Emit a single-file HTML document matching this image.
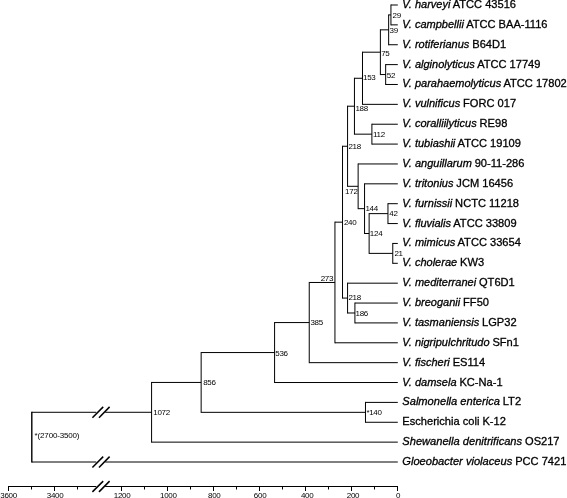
<!DOCTYPE html><html><head><meta charset="utf-8"><title>tree</title><style>
html,body{margin:0;padding:0;background:#fff}
#c{position:relative;width:567px;height:498px;overflow:hidden;background:#fff;font-family:"Liberation Sans",sans-serif;color:#000}
.t{position:absolute;white-space:nowrap;font-size:11.1px;line-height:12px;height:12px;-webkit-text-stroke:0.3px #000}
.n{position:absolute;white-space:nowrap;font-size:8px;letter-spacing:-0.3px;line-height:8px;height:8px}
.a{position:absolute;white-space:nowrap;font-size:8px;letter-spacing:-0.3px;line-height:8px;height:8px;width:40px;text-align:center}
i{font-style:italic;font-size:11.0px;margin-right:-0.2px}

</style></head><body><div id="c">
<svg width="567" height="498" viewBox="0 0 567 498" style="position:absolute;left:0;top:0">
<rect width="567" height="498" fill="#fff"/>
<g stroke="#000" stroke-width="1" fill="none">
<line x1="390.94" y1="4.50" x2="390.94" y2="25.37"/>
<line x1="390.94" y1="5.00" x2="397.80" y2="5.00"/>
<line x1="390.94" y1="24.87" x2="397.80" y2="24.87"/>
<line x1="388.65" y1="14.44" x2="388.65" y2="45.24"/>
<line x1="388.65" y1="14.94" x2="390.94" y2="14.94"/>
<line x1="388.65" y1="44.74" x2="397.80" y2="44.74"/>
<line x1="385.67" y1="64.11" x2="385.67" y2="84.98"/>
<line x1="385.67" y1="64.61" x2="397.80" y2="64.61"/>
<line x1="385.67" y1="84.48" x2="397.80" y2="84.48"/>
<line x1="380.39" y1="29.34" x2="380.39" y2="75.05"/>
<line x1="380.39" y1="29.84" x2="388.65" y2="29.84"/>
<line x1="380.39" y1="74.55" x2="385.67" y2="74.55"/>
<line x1="362.49" y1="51.69" x2="362.49" y2="104.85"/>
<line x1="362.49" y1="52.19" x2="380.39" y2="52.19"/>
<line x1="362.49" y1="104.35" x2="397.80" y2="104.35"/>
<line x1="371.90" y1="123.72" x2="371.90" y2="144.59"/>
<line x1="371.90" y1="124.22" x2="397.80" y2="124.22"/>
<line x1="371.90" y1="144.09" x2="397.80" y2="144.09"/>
<line x1="354.45" y1="77.77" x2="354.45" y2="134.66"/>
<line x1="354.45" y1="78.27" x2="362.49" y2="78.27"/>
<line x1="354.45" y1="134.16" x2="371.90" y2="134.16"/>
<line x1="387.96" y1="203.20" x2="387.96" y2="224.07"/>
<line x1="387.96" y1="203.70" x2="397.80" y2="203.70"/>
<line x1="387.96" y1="223.57" x2="397.80" y2="223.57"/>
<line x1="392.78" y1="242.94" x2="392.78" y2="263.81"/>
<line x1="392.78" y1="243.44" x2="397.80" y2="243.44"/>
<line x1="392.78" y1="263.31" x2="397.80" y2="263.31"/>
<line x1="369.14" y1="213.14" x2="369.14" y2="253.88"/>
<line x1="369.14" y1="213.64" x2="387.96" y2="213.64"/>
<line x1="369.14" y1="253.38" x2="392.78" y2="253.38"/>
<line x1="364.55" y1="183.33" x2="364.55" y2="234.00"/>
<line x1="364.55" y1="183.83" x2="397.80" y2="183.83"/>
<line x1="364.55" y1="233.50" x2="369.14" y2="233.50"/>
<line x1="358.13" y1="163.46" x2="358.13" y2="209.17"/>
<line x1="358.13" y1="163.96" x2="397.80" y2="163.96"/>
<line x1="358.13" y1="208.67" x2="364.55" y2="208.67"/>
<line x1="347.57" y1="105.71" x2="347.57" y2="186.81"/>
<line x1="347.57" y1="106.21" x2="354.45" y2="106.21"/>
<line x1="347.57" y1="186.31" x2="358.13" y2="186.31"/>
<line x1="354.91" y1="302.55" x2="354.91" y2="323.42"/>
<line x1="354.91" y1="303.05" x2="397.80" y2="303.05"/>
<line x1="354.91" y1="322.92" x2="397.80" y2="322.92"/>
<line x1="347.57" y1="282.68" x2="347.57" y2="313.49"/>
<line x1="347.57" y1="283.18" x2="397.80" y2="283.18"/>
<line x1="347.57" y1="312.99" x2="354.91" y2="312.99"/>
<line x1="342.52" y1="145.76" x2="342.52" y2="298.58"/>
<line x1="342.52" y1="146.26" x2="347.57" y2="146.26"/>
<line x1="342.52" y1="298.08" x2="347.57" y2="298.08"/>
<line x1="334.95" y1="221.67" x2="334.95" y2="343.29"/>
<line x1="334.95" y1="222.17" x2="342.52" y2="222.17"/>
<line x1="334.95" y1="342.79" x2="397.80" y2="342.79"/>
<line x1="309.24" y1="281.98" x2="309.24" y2="363.16"/>
<line x1="309.24" y1="282.48" x2="334.95" y2="282.48"/>
<line x1="309.24" y1="362.66" x2="397.80" y2="362.66"/>
<line x1="274.59" y1="322.07" x2="274.59" y2="383.03"/>
<line x1="274.59" y1="322.57" x2="309.24" y2="322.57"/>
<line x1="274.59" y1="382.53" x2="397.80" y2="382.53"/>
<line x1="365.47" y1="401.90" x2="365.47" y2="422.77"/>
<line x1="365.47" y1="402.40" x2="397.80" y2="402.40"/>
<line x1="365.47" y1="422.27" x2="397.80" y2="422.27"/>
<line x1="201.15" y1="352.05" x2="201.15" y2="412.84"/>
<line x1="201.15" y1="352.55" x2="274.59" y2="352.55"/>
<line x1="201.15" y1="412.34" x2="365.47" y2="412.34"/>
<line x1="151.58" y1="381.94" x2="151.58" y2="442.64"/>
<line x1="151.58" y1="382.44" x2="201.15" y2="382.44"/>
<line x1="151.58" y1="442.14" x2="397.80" y2="442.14"/>
<line x1="31.80" y1="411.79" x2="31.80" y2="462.51" stroke-width="1.4"/>
<line x1="31.80" y1="412.29" x2="151.58" y2="412.29"/>
<line x1="31.80" y1="462.01" x2="397.80" y2="462.01"/>
<line x1="8.00" y1="486.5" x2="398.00" y2="486.5"/>
<line x1="397.50" y1="486.5" x2="397.50" y2="491.00"/>
<line x1="374.50" y1="486.5" x2="374.50" y2="489.50"/>
<line x1="351.50" y1="486.5" x2="351.50" y2="491.00"/>
<line x1="328.50" y1="486.5" x2="328.50" y2="489.50"/>
<line x1="305.50" y1="486.5" x2="305.50" y2="491.00"/>
<line x1="282.50" y1="486.5" x2="282.50" y2="489.50"/>
<line x1="259.50" y1="486.5" x2="259.50" y2="491.00"/>
<line x1="236.50" y1="486.5" x2="236.50" y2="489.50"/>
<line x1="213.50" y1="486.5" x2="213.50" y2="491.00"/>
<line x1="190.50" y1="486.5" x2="190.50" y2="489.50"/>
<line x1="167.50" y1="486.5" x2="167.50" y2="491.00"/>
<line x1="144.50" y1="486.5" x2="144.50" y2="489.50"/>
<line x1="121.50" y1="486.5" x2="121.50" y2="491.00"/>
<line x1="8.50" y1="486.5" x2="8.50" y2="491.00"/>
<line x1="31.50" y1="486.5" x2="31.50" y2="489.50"/>
<line x1="54.50" y1="486.5" x2="54.50" y2="491.00"/>
<line x1="77.50" y1="486.5" x2="77.50" y2="489.50"/>
</g>
<rect x="96.3" y="410.79" width="8.9" height="3" fill="#fff"/>
<g stroke="#000" stroke-width="1.5" stroke-linecap="butt"><line x1="92.4" y1="417.69" x2="103.2" y2="406.89"/><line x1="99.0" y1="417.69" x2="109.6" y2="406.89"/></g>
<rect x="96.3" y="460.51" width="8.9" height="3" fill="#fff"/>
<g stroke="#000" stroke-width="1.5" stroke-linecap="butt"><line x1="92.4" y1="467.41" x2="103.2" y2="456.61"/><line x1="99.0" y1="467.41" x2="109.6" y2="456.61"/></g>
<rect x="96.3" y="485.00" width="8.9" height="3" fill="#fff"/>
<g stroke="#000" stroke-width="1.5" stroke-linecap="butt"><line x1="92.4" y1="491.90" x2="103.2" y2="481.10"/><line x1="99.0" y1="491.90" x2="109.6" y2="481.10"/></g>
</svg>
<div id="tx" style="position:absolute;left:0;top:0;width:567px;height:498px;will-change:transform">
<div class="t" style="left:402.3px;top:-2.00px"><i>V. harveyi</i> ATCC 43516</div>
<div class="t" style="left:402.3px;top:17.87px"><i>V. campbellii</i> ATCC BAA-1116</div>
<div class="t" style="left:402.3px;top:37.74px"><i>V. rotiferianus</i> B64D1</div>
<div class="t" style="left:402.3px;top:57.61px"><i>V. alginolyticus</i> ATCC 17749</div>
<div class="t" style="left:402.3px;top:77.48px"><i>V. parahaemolyticus</i> ATCC 17802</div>
<div class="t" style="left:402.3px;top:97.35px"><i>V. vulnificus</i> FORC 017</div>
<div class="t" style="left:402.3px;top:117.22px"><i>V. coralliilyticus</i> RE98</div>
<div class="t" style="left:402.3px;top:137.09px"><i>V. tubiashii</i> ATCC 19109</div>
<div class="t" style="left:402.3px;top:156.96px"><i>V. anguillarum</i> 90-11-286</div>
<div class="t" style="left:402.3px;top:176.83px"><i>V. tritonius</i> JCM 16456</div>
<div class="t" style="left:402.3px;top:196.70px"><i>V. furnissii</i> NCTC 11218</div>
<div class="t" style="left:402.3px;top:216.57px"><i>V. fluvialis</i> ATCC 33809</div>
<div class="t" style="left:402.3px;top:236.44px"><i>V. mimicus</i> ATCC 33654</div>
<div class="t" style="left:402.3px;top:256.31px"><i>V. cholerae</i> KW3</div>
<div class="t" style="left:402.3px;top:276.18px"><i>V. mediterranei</i> QT6D1</div>
<div class="t" style="left:402.3px;top:296.05px"><i>V. breoganii</i> FF50</div>
<div class="t" style="left:402.3px;top:315.92px"><i>V. tasmaniensis</i> LGP32</div>
<div class="t" style="left:402.3px;top:335.79px"><i>V. nigripulchritudo</i> SFn1</div>
<div class="t" style="left:402.3px;top:355.66px"><i>V. fischeri</i> ES114</div>
<div class="t" style="left:402.3px;top:375.53px"><i>V. damsela</i> KC-Na-1</div>
<div class="t" style="left:402.3px;top:395.40px"><i style="font-size:11.12px">Salmonella enterica</i> LT2</div>
<div class="t" style="left:402.3px;top:415.27px">Escherichia coli K-12</div>
<div class="t" style="left:402.3px;top:435.14px"><i style="font-size:11.12px">Shewanella denitrificans</i> OS217</div>
<div class="t" style="left:402.3px;top:455.01px"><i style="font-size:11.12px">Gloeobacter violaceus</i> PCC 7421</div>
<div class="n" id="n29" style="left:392.50px;top:11.80px">29</div>
<div class="n" id="n39" style="left:389.50px;top:27.20px">39</div>
<div class="n" id="n52" style="left:386.85px;top:71.90px">52</div>
<div class="n" id="n75" style="left:381.20px;top:49.90px">75</div>
<div class="n" id="n153" style="left:363.00px;top:73.60px">153</div>
<div class="n" id="n112" style="left:373.00px;top:130.70px">112</div>
<div class="n" id="n188" style="left:355.40px;top:104.75px">188</div>
<div class="n" id="n42" style="left:389.30px;top:210.45px">42</div>
<div class="n" id="n21" style="left:394.40px;top:250.00px">21</div>
<div class="n" id="n124" style="left:369.85px;top:229.70px">124</div>
<div class="n" id="n144" style="left:365.40px;top:204.80px">144</div>
<div class="n" id="n172" style="left:345.10px;top:187.50px">172</div>
<div class="n" id="n218a" style="left:348.40px;top:142.50px">218</div>
<div class="n" id="n186" style="left:355.50px;top:309.90px">186</div>
<div class="n" id="n218b" style="left:348.40px;top:293.60px">218</div>
<div class="n" id="n240" style="left:343.95px;top:218.90px">240</div>
<div class="n" id="n273" style="left:320.70px;top:274.50px">273</div>
<div class="n" id="n385" style="left:310.40px;top:318.50px">385</div>
<div class="n" id="n536" style="left:275.30px;top:349.70px">536</div>
<div class="n" id="n140" style="left:366.40px;top:408.80px">*140</div>
<div class="n" id="n856" style="left:203.20px;top:378.70px">856</div>
<div class="n" id="n1072" style="left:153.30px;top:409.10px">1072</div>
<div class="n" id="root" style="left:34.60px;top:432.20px;letter-spacing:-0.16px">*(2700-3500)</div>
<div class="a" style="left:378.10px;top:491.80px">0</div>
<div class="a" style="left:333.00px;top:491.80px">200</div>
<div class="a" style="left:287.20px;top:491.80px">400</div>
<div class="a" style="left:240.10px;top:491.80px">600</div>
<div class="a" style="left:194.30px;top:491.80px">800</div>
<div class="a" style="left:148.30px;top:491.80px">1000</div>
<div class="a" style="left:102.10px;top:491.80px">1200</div>
<div class="a" style="left:-11.40px;top:491.80px">3600</div>
<div class="a" style="left:35.10px;top:491.80px">3400</div>
</div></div></body></html>
